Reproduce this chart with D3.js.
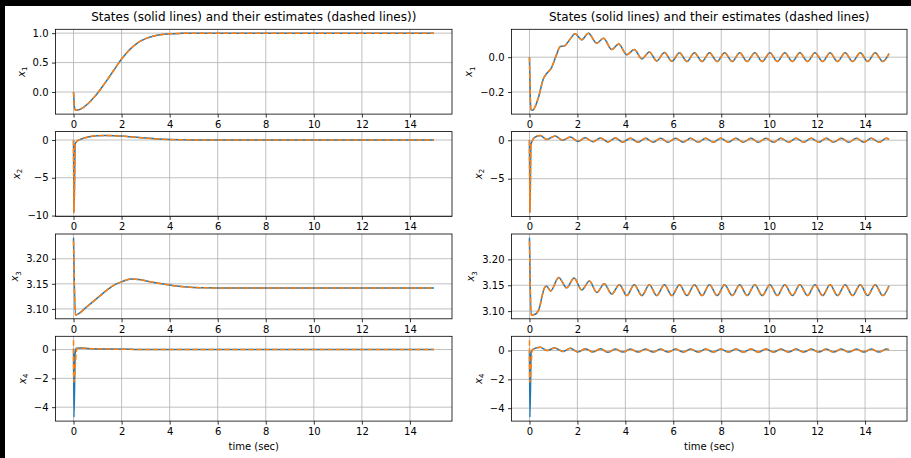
<!DOCTYPE html>
<html>
<head>
<meta charset="utf-8">
<script src="https://cdn.jsdelivr.net/npm/d3@7"></script>
<style>
body { margin: 0; background: #000; }
svg { display: block; font-family: "DejaVu Sans", sans-serif; }
</style>
</head>
<body>
<svg width="911" height="458"></svg>
<script>
// time axis
var timeTicks = [0, 2, 4, 6, 8, 10, 12, 14];
var timeRange = [0, 15];

var titles = ["States (solid lines) and their estimates (dashed lines))",
              "States (solid lines) and their estimates (dashed lines)"];

// ---- left column: states [t, value] ----
var x1L = [[0,0],[0.05,-0.29],[0.1,-0.31],[0.2,-0.305],[0.4,-0.265],[0.6,-0.2],[0.8,-0.115],[1.0,-0.02],
  [1.2,0.09],[1.4,0.205],[1.6,0.325],[1.8,0.445],[2.0,0.56],[2.2,0.66],[2.4,0.745],[2.6,0.815],[2.8,0.868],
  [3.0,0.908],[3.3,0.948],[3.6,0.972],[4.0,0.989],[4.5,0.997],[5.0,1.0],[15,1.0]];
var x2L = [[0,0],[0.02,-9.6],[0.07,-0.5],[0.15,-0.15],[0.3,0.1],[0.6,0.4],[1.0,0.57],[1.3,0.6],[1.7,0.57],
  [2.0,0.52],[2.5,0.38],[3.0,0.25],[3.5,0.14],[4.0,0.07],[4.5,0.03],[5.0,0.01],[6.0,0],[15,0]];
var x3L = [[0,3.2416],[0.08,3.088],[0.2,3.09],[0.5,3.102],[0.8,3.114],[1.1,3.126],[1.4,3.138],[1.7,3.148],
  [2.0,3.154],[2.4,3.1595],[2.8,3.158],[3.2,3.154],[3.6,3.1505],[4.0,3.1475],[4.5,3.1445],[5.0,3.1428],
  [5.5,3.142],[6.0,3.1417],[15,3.1416]];
var x4L = [[0,0],[0.02,-4.7],[0.07,-0.2],[0.12,0.08],[0.3,0.1],[0.8,0.06],[1.5,0.03],[2.5,0.01],[4.0,0],[15,0]];

// estimates: own start, then they sit on the states
var x1LEst = x1L;
var x2LEst = x2L;
var x3LEst = [[0,3.236]].concat(x3L.slice(1));
var x4LEst = [[0,0.65],[0.01,-2.25],[0.14,0.05]].concat(x4L.slice(4));

// ---- right column: states ----
var x1R = [[0,0],[0.06,-0.3],[0.13,-0.305],[0.25,-0.28],[0.38,-0.229],[0.58,-0.124],[0.72,-0.094],[0.93,-0.057],
  [1.14,0.019],[1.28,0.061],[1.45,0.064],[1.7,0.105],[1.9,0.134],[2.18,0.1],[2.46,0.138],[2.8,0.08],[3.09,0.109],
  [3.43,0.044],[3.72,0.076],[4.06,0.014],[4.37,0.044],[4.69,-0.01],[5.0,0.03],[5.31,-0.022],[5.63,0.027],
  [5.94,-0.024],[6.26,0.026],[6.57,-0.025],[6.88,0.026],[7.2,-0.025],[7.51,0.026],[7.83,-0.025],[8.14,0.026],
  [8.46,-0.025],[8.77,0.026],[9.08,-0.025],[9.4,0.026],[9.71,-0.025],[10.03,0.026],[10.34,-0.025],[10.65,0.026],
  [10.97,-0.025],[11.28,0.026],[11.6,-0.025],[11.91,0.026],[12.23,-0.025],[12.54,0.026],[12.85,-0.025],
  [13.17,0.026],[13.48,-0.025],[13.8,0.026],[14.11,-0.025],[14.42,0.026],[14.74,-0.025],[15,0.02]];
var x2R = [[0,0],[0.02,-9.4],[0.06,-0.6],[0.1,-0.2],[0.2,0.35],[0.45,0.62],[0.72,0.1],[1.07,0.55],[1.38,0.0],
  [1.7,0.42],[2.02,-0.15],[2.32,0.32],[2.65,-0.2],[2.96,0.3],[3.28,-0.23],[3.58,0.28],[3.9,-0.25],[4.21,0.27],
  [4.53,-0.26],[4.84,0.26],[5.16,-0.26],[5.47,0.26],[5.78,-0.26],[6.1,0.26],[6.41,-0.26],[6.72,0.26],
  [7.04,-0.26],[7.35,0.26],[7.67,-0.26],[7.98,0.26],[8.3,-0.26],[8.61,0.26],[8.92,-0.26],[9.24,0.26],
  [9.55,-0.26],[9.87,0.26],[10.18,-0.26],[10.49,0.26],[10.81,-0.26],[11.12,0.26],[11.44,-0.26],[11.75,0.26],
  [12.07,-0.26],[12.38,0.26],[12.69,-0.26],[13.01,0.26],[13.32,-0.26],[13.64,0.26],[13.95,-0.26],[14.26,0.26],
  [14.58,-0.26],[14.89,0.26],[15,0.12]];
var x3R = [[0,3.2416],[0.07,3.0926],[0.24,3.094],[0.38,3.102],[0.65,3.147],[0.72,3.148],[0.88,3.139],[1.22,3.165],
  [1.55,3.145],[1.86,3.164],[2.18,3.141],[2.5,3.158],[2.81,3.136],[3.12,3.153],[3.43,3.133],[3.75,3.151],
  [4.06,3.13],[4.37,3.151],[4.69,3.13],[5.0,3.151],[5.31,3.13],[5.63,3.151],[5.94,3.13],[6.26,3.151],
  [6.57,3.13],[6.88,3.151],[7.2,3.13],[7.51,3.151],[7.83,3.13],[8.14,3.151],[8.46,3.13],[8.77,3.151],
  [9.08,3.13],[9.4,3.151],[9.71,3.13],[10.03,3.151],[10.34,3.13],[10.65,3.151],[10.97,3.13],[11.28,3.151],
  [11.6,3.13],[11.91,3.151],[12.23,3.13],[12.54,3.151],[12.85,3.13],[13.17,3.151],[13.48,3.13],[13.8,3.151],
  [14.11,3.13],[14.42,3.151],[14.74,3.13],[15,3.149]];
var x4R = [[0,0],[0.02,-4.63],[0.07,-0.1],[0.15,0.1],[0.45,0.22],[0.73,0.0],[1.05,0.18],[1.4,-0.06],[1.7,0.15],
  [2.02,-0.1],[2.33,0.13],[2.65,-0.11],[2.96,0.12],[3.28,-0.12],[3.58,0.11],[3.9,-0.11],[4.21,0.1],[4.53,-0.11],
  [4.84,0.1],[5.16,-0.11],[5.47,0.1],[5.78,-0.11],[6.1,0.1],[6.41,-0.11],[6.72,0.1],[7.04,-0.11],[7.35,0.1],
  [7.67,-0.11],[7.98,0.1],[8.3,-0.11],[8.61,0.1],[8.92,-0.11],[9.24,0.1],[9.55,-0.11],[9.87,0.1],[10.18,-0.11],
  [10.49,0.1],[10.81,-0.11],[11.12,0.1],[11.44,-0.11],[11.75,0.1],[12.07,-0.11],[12.38,0.1],[12.69,-0.11],
  [13.01,0.1],[13.32,-0.11],[13.64,0.1],[13.95,-0.11],[14.26,0.1],[14.58,-0.11],[14.89,0.1],[15,0.05]];

var x1REst = x1R;
var x2REst = x2R;
var x3REst = [[0,3.235]].concat(x3R.slice(1));
var x4REst = [[0,0.72],[0.01,-2.2],[0.12,0.05]].concat(x4R.slice(3));

// y tick values per row
var ticksX1L = [0, 0.5, 1.0], ticksX1R = [-0.2, 0.0];
var ticksX2L = [-10, -5, 0], ticksX2R = [-5, 0];
var ticksX3 = [3.10, 3.15, 3.20];
var ticksX4 = [-4, -2, 0];

var panels = [
  {col: 0, row: 0, sub: "1", state: x1L, est: x1LEst, ticks: ticksX1L, fmt: ".1f"},
  {col: 0, row: 1, sub: "2", state: x2L, est: x2LEst, ticks: ticksX2L, fmt: "d"},
  {col: 0, row: 2, sub: "3", state: x3L, est: x3LEst, ticks: ticksX3, fmt: ".2f"},
  {col: 0, row: 3, sub: "4", state: x4L, est: x4LEst, ticks: ticksX4, fmt: "d"},
  {col: 1, row: 0, sub: "1", state: x1R, est: x1REst, ticks: ticksX1R, fmt: ".1f"},
  {col: 1, row: 1, sub: "2", state: x2R, est: x2REst, ticks: ticksX2R, fmt: "d"},
  {col: 1, row: 2, sub: "3", state: x3R, est: x3REst, ticks: ticksX3, fmt: ".2f"},
  {col: 1, row: 3, sub: "4", state: x4R, est: x4REst, ticks: ticksX4, fmt: "d"}
];

var svg = d3.select("svg");

// layout
var colLeft = [55.5, 511.5], colRight = [452, 907];
var rowTop = [29.3, 131.6, 234, 336.3], rowH = 84.8;

svg.append("rect").attr("width", 911).attr("height", 458).attr("fill", "#000");
svg.append("rect").attr("x", 5).attr("y", 6).attr("width", 906).attr("height", 452).attr("fill", "#fff");

// matplotlib style autoscale, 5% margin
function padded(ext) {
  var m = (ext[1] - ext[0]) * 0.05;
  return [ext[0] - m, ext[1] + m];
}

panels.forEach(function(p) {
  var left = colLeft[p.col], right = colRight[p.col];
  var top = rowTop[p.row], bottom = top + rowH;

  var x = d3.scaleLinear().domain(padded(timeRange)).range([left, right]);
  var y = d3.scaleLinear()
      .domain(padded(d3.extent(p.state.concat(p.est), function(d) { return d[1]; })))
      .range([bottom, top]);

  var g = svg.append("g");

  // grid
  g.selectAll(".gx").data(timeTicks).enter().append("line")
      .attr("x1", function(d) { return x(d); }).attr("x2", function(d) { return x(d); })
      .attr("y1", top).attr("y2", bottom)
      .attr("stroke", "#b0b0b0").attr("stroke-width", 0.8);
  g.selectAll(".gy").data(p.ticks).enter().append("line")
      .attr("y1", function(d) { return y(d); }).attr("y2", function(d) { return y(d); })
      .attr("x1", left).attr("x2", right)
      .attr("stroke", "#b0b0b0").attr("stroke-width", 0.8);

  var line = d3.line()
      .x(function(d) { return x(d[0]); })
      .y(function(d) { return y(d[1]); })
      .curve(d3.curveMonotoneX);

  g.append("path").datum(p.state)
      .attr("d", line).attr("fill", "none")
      .attr("stroke", "#1f77b4").attr("stroke-width", 1.5).attr("stroke-linejoin", "round");
  g.append("path").datum(p.est)
      .attr("d", line).attr("fill", "none")
      .attr("stroke", "#ff7f0e").attr("stroke-width", 1.5).attr("stroke-linejoin", "round")
      .attr("stroke-dasharray", "5.55,2.4");

  // frame
  g.append("rect")
      .attr("x", left).attr("y", top).attr("width", right - left).attr("height", rowH)
      .attr("fill", "none").attr("stroke", "#000").attr("stroke-width", 0.8);

  var xAxis = g.append("g")
      .attr("transform", "translate(0," + bottom + ")")
      .call(d3.axisBottom(x).tickValues(timeTicks).tickSize(3.5).tickPadding(3.5).tickSizeOuter(0));
  var yAxis = g.append("g")
      .attr("transform", "translate(" + left + ",0)")
      .call(d3.axisLeft(y).tickValues(p.ticks).tickSize(3.5).tickPadding(3.5).tickSizeOuter(0)
        .tickFormat(d3.format(p.fmt)));

  [xAxis, yAxis].forEach(function(a) {
    a.attr("font-family", "DejaVu Sans").attr("font-size", 10).attr("color", "#000");
    a.select(".domain").remove();
    a.selectAll(".tick line").attr("stroke-width", 0.8);
  });

  // y label sits left of the widest tick label
  var minX = d3.min(yAxis.selectAll("text").nodes(), function(n) { return n.getBBox().x; });
  var lab = g.append("text")
      .attr("transform", "translate(" + (left + minX - 7.8) + "," + (top + rowH / 2) + ") rotate(-90)")
      .attr("text-anchor", "middle")
      .attr("font-size", 10)
      .attr("fill", "#000");
  lab.append("tspan").attr("font-style", "italic").text("x");
  lab.append("tspan").attr("font-size", 7).attr("dy", 2.5).text(p.sub);

  if (p.row == 3) {
    g.append("text")
        .attr("x", (left + right) / 2).attr("y", 450)
        .attr("text-anchor", "middle").attr("font-size", 10).attr("fill", "#000")
        .text("time (sec)");
  }
  if (p.row == 0) {
    g.append("text")
        .attr("x", (left + right) / 2).attr("y", 20.7)
        .attr("text-anchor", "middle").attr("font-size", 12).attr("fill", "#000")
        .text(titles[p.col]);
  }
});
</script>
</body>
</html>
